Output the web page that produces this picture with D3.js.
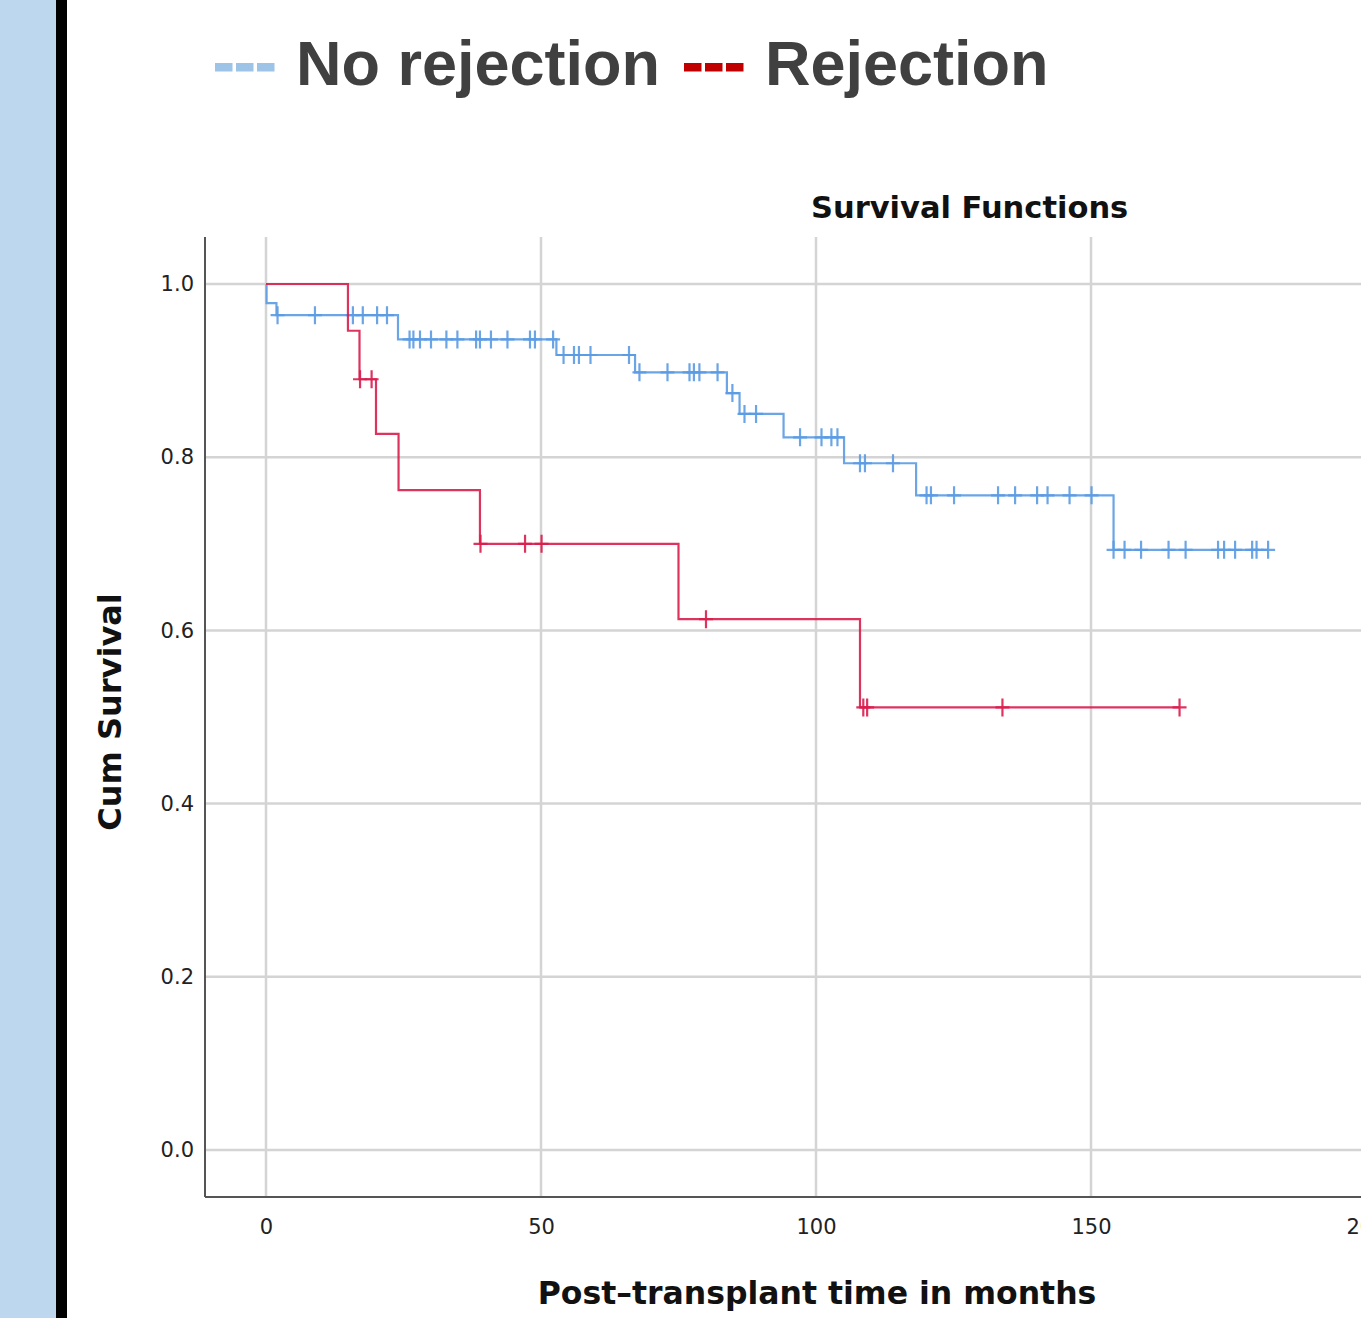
<!DOCTYPE html>
<html>
<head>
<meta charset="utf-8">
<script src="https://cdn.jsdelivr.net/npm/d3@7"></script>
<style>
  html, body { margin: 0; padding: 0; background: #fff; overflow: hidden; }
  svg { display: block; }
</style>
</head>
<body>
<div id="root"></div>
<script>
// series names shown in the legend
const seriesNames = ['No rejection', 'Rejection']

// Kaplan-Meier steps: time (months) and survival after the drop
const noRejTimes = [0, 0.1, 1.9, 24.0, 52.8, 67.1, 83.8, 86.1, 94.1, 105.1, 118.2, 154.1]
const noRejSurv = [1.0, 0.978, 0.964, 0.936, 0.918, 0.898, 0.874, 0.850, 0.823, 0.793, 0.756, 0.693]
// censored cases
const noRejCensor = [2.1, 8.9, 15.8, 17.6, 20.2, 22.0, 26.1, 26.8, 28.0, 30.0, 32.8, 34.8, 38.2, 38.9,
  40.9, 43.9, 48.0, 48.9, 52.2, 54.1, 56.0, 56.9, 59.0, 66.0, 67.9, 73.0, 77.0, 77.8, 78.8, 82.1,
  84.8, 87.0, 89.1, 97.1, 101.0, 102.8, 103.9, 108.0, 108.9, 114.0, 120.1, 120.9, 125.1, 133.1,
  136.2, 140.2, 142.1, 146.1, 150.1, 154.1, 156.1, 159.1, 164.1, 167.2, 173.1, 174.2, 176.2,
  179.3, 180.1, 182.2]

const rejTimes = [0, 14.9, 17.0, 20.0, 24.1, 38.9, 75.0, 108.0]
const rejSurv = [1.0, 0.946, 0.890, 0.827, 0.762, 0.700, 0.613, 0.511]
const rejCensor = [17.1, 19.2, 39.0, 47.1, 50.1, 80.0, 108.6, 109.3, 133.9, 166.1]

// axis ticks
const xTicks = [0, 50, 100, 150, 200]
const yTicks = [0, 0.2, 0.4, 0.6, 0.8, 1.0]

const width = 1361
const height = 1318

const frame = { left: 205, top: 237, bottom: 1197, right: 1361 }

const lineColors = ['#5b9be3', '#d81e4e']
const legendColors = ['#9dc3e6', '#c00000']

const svg = d3.select('#root').append('svg')
  .attr('width', width)
  .attr('height', height)

// side bars of the slide
svg.append('rect').attr('x', 0).attr('y', 0).attr('width', 56).attr('height', height).attr('fill', '#bdd7ee')
svg.append('rect').attr('x', 56).attr('y', 0).attr('width', 11).attr('height', height).attr('fill', '#000')

// scales
const x = d3.scaleLinear().domain([0, 150]).range([266, 1091])
const y = d3.scaleLinear().domain([0, 1]).range([1150, 284])

// grid
const grid = svg.append('g')
grid.selectAll('.gx')
  .data(xTicks)
  .enter()
  .append('line')
  .attr('x1', d => x(d)).attr('x2', d => x(d))
  .attr('y1', frame.top).attr('y2', frame.bottom)
  .attr('stroke', '#d4d4d4')
  .attr('stroke-width', 2.5)

grid.selectAll('.gy')
  .data(yTicks)
  .enter()
  .append('line')
  .attr('x1', frame.left).attr('x2', frame.right)
  .attr('y1', d => y(d)).attr('y2', d => y(d))
  .attr('stroke', '#d4d4d4')
  .attr('stroke-width', 2.5)

// axes (labels only, lines drawn below)
const axisX = d3.axisBottom(x).tickValues(xTicks).tickSize(0).tickPadding(22).tickFormat(d3.format('d'))
const axisY = d3.axisLeft(y).tickValues(yTicks).tickSize(0).tickPadding(11).tickFormat(d3.format('.1f'))

const gx = svg.append('g')
  .attr('transform', `translate(0, ${frame.bottom})`)
  .call(axisX)
const gy = svg.append('g')
  .attr('transform', `translate(${frame.left}, 0)`)
  .call(axisY)

;[gx, gy].forEach(g => {
  g.select('.domain').remove()
  g.selectAll('text')
    .attr('font-family', 'DejaVu Sans, sans-serif')
    .attr('font-size', 21)
    .attr('fill', '#222')
})

svg.append('line')
  .attr('x1', frame.left).attr('x2', frame.left)
  .attr('y1', frame.top).attr('y2', frame.bottom)
  .attr('stroke', '#555').attr('stroke-width', 2)
svg.append('line')
  .attr('x1', frame.left).attr('x2', frame.right)
  .attr('y1', frame.bottom).attr('y2', frame.bottom)
  .attr('stroke', '#555').attr('stroke-width', 2)

// survival curves
function survAt(times, surv, t) {
  let s = surv[0]
  times.forEach((tt, i) => { if (tt <= t) s = surv[i] })
  return s
}

const stepLine = d3.line()
  .x(d => x(d[0]))
  .y(d => y(d[1]))
  .curve(d3.curveStepAfter)

const groups = [
  { times: noRejTimes, surv: noRejSurv, censor: noRejCensor },
  { times: rejTimes, surv: rejSurv, censor: rejCensor }
]

groups.forEach((grp, gi) => {
  const pts = grp.times.map((t, i) => [t, grp.surv[i]])
  const end = d3.max(grp.censor)
  pts.push([end, survAt(grp.times, grp.surv, end)])

  const g = svg.append('g')
    .attr('stroke', lineColors[gi])
    .attr('stroke-width', 2.2)
    .attr('fill', 'none')
    .attr('stroke-opacity', 0.9)

  g.append('path')
    .attr('d', stepLine(pts))

  // censor marks: small crosses
  g.selectAll('.cv')
    .data(grp.censor)
    .enter()
    .append('path')
    .attr('d', d => {
      const cx = x(d)
      const cy = y(survAt(grp.times, grp.surv, d))
      return `M${cx},${cy - 9}V${cy + 9}M${cx - 7},${cy}H${cx + 7}`
    })
})

// title and axis titles
svg.append('text')
  .attr('x', 811)
  .attr('y', 218)
  .attr('font-family', 'DejaVu Sans, sans-serif')
  .attr('font-weight', 'bold')
  .attr('font-size', 30.5)
  .attr('fill', '#111')
  .text('Survival Functions')

svg.append('text')
  .attr('x', 817)
  .attr('y', 1304)
  .attr('text-anchor', 'middle')
  .attr('font-family', 'DejaVu Sans, sans-serif')
  .attr('font-weight', 'bold')
  .attr('font-size', 31.5)
  .attr('fill', '#111')
  .text('Post\u2013transplant time in months')

svg.append('text')
  .attr('transform', 'translate(121, 712) rotate(-90)')
  .attr('text-anchor', 'middle')
  .attr('font-family', 'DejaVu Sans, sans-serif')
  .attr('font-weight', 'bold')
  .attr('font-size', 32)
  .attr('fill', '#111')
  .text('Cum Survival')

// legend
const legendX = [215, 684]
const legend = svg.append('g')
seriesNames.forEach((name, i) => {
  const item = legend.append('g').attr('transform', `translate(${legendX[i]}, 0)`)
  item.selectAll('rect')
    .data([0, 1, 2])
    .enter()
    .append('rect')
    .attr('x', d => d * 21)
    .attr('y', 63)
    .attr('width', 17.5)
    .attr('height', 8.5)
    .attr('fill', legendColors[i])
  item.append('text')
    .attr('x', 81)
    .attr('y', 85)
    .attr('font-family', 'Liberation Sans, Arial, sans-serif')
    .attr('font-weight', 'bold')
    .attr('font-size', 63)
    .attr('fill', '#404040')
    .text(name)
})
</script>
</body>
</html>
